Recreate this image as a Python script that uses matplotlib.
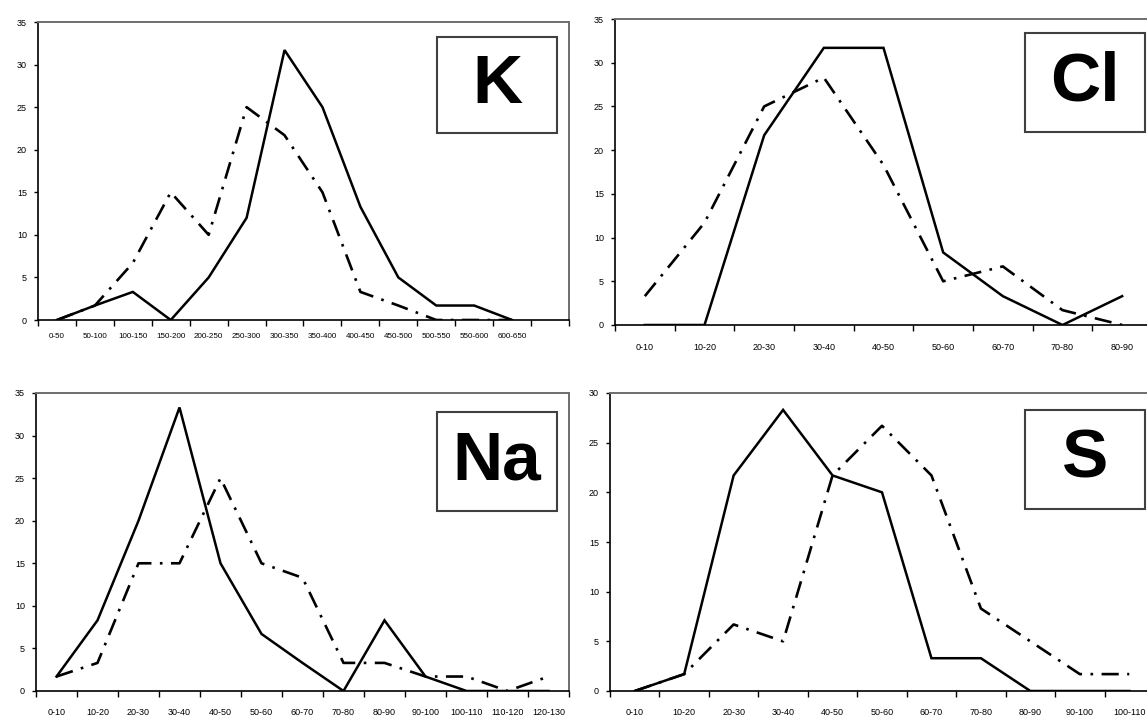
import matplotlib
matplotlib.use('Agg')
import matplotlib.pyplot as plt
from matplotlib.patches import Rectangle

plt.rcParams['font.family'] = ['Liberation Sans', 'DejaVu Sans']

# K panel
K_labels = ['0-50', '50-100', '100-150', '150-200', '200-250', '250-300', '300-350',
            '350-400', '400-450', '450-500', '500-550', '550-600', '600-650']
K_solid = [0, 1.7, 3.3, 0, 5, 12, 31.7, 25, 13.3, 5, 1.7, 1.7, 0]
K_dash = [0, 1.7, 6.7, 15, 10, 25, 21.7, 15, 3.3, 1.7, 0, 0, 0]

# Cl panel
Cl_labels = ['0-10', '10-20', '20-30', '30-40', '40-50', '50-60', '60-70', '70-80', '80-90']
Cl_solid = [0, 0, 21.7, 31.7, 31.7, 8.3, 3.3, 0, 3.3]
Cl_dash = [3.3, 11.7, 25, 28.3, 18.3, 5, 6.7, 1.7, 0]

# Na panel
Na_labels = ['0-10', '10-20', '20-30', '30-40', '40-50', '50-60', '60-70', '70-80',
             '80-90', '90-100', '100-110', '110-120', '120-130']
Na_solid = [1.7, 8.3, 20, 33.3, 15, 6.7, 3.3, 0, 8.3, 1.7, 0, 0, 0]
Na_dash = [1.7, 3.3, 15, 15, 25, 15, 13.3, 3.3, 3.3, 1.7, 1.7, 0, 1.7]

# S panel
S_labels = ['0-10', '10-20', '20-30', '30-40', '40-50', '50-60', '60-70', '70-80',
            '80-90', '90-100', '100-110']
S_solid = [0, 1.7, 21.7, 28.3, 21.7, 20, 3.3, 3.3, 0, 0, 0]
S_dash = [0, 1.7, 6.7, 5, 21.7, 26.7, 21.7, 8.3, 5, 1.7, 1.7]

W, H = 1147, 722
fig = plt.figure(figsize=(W / 100, H / 100), dpi=100)


def px_axes(x0, y0, x1, y1):
    return fig.add_axes([x0 / W, 1 - y1 / H, (x1 - x0) / W, (y1 - y0) / H])


def panel(ax, labels, solid, dash, nslots, ymax, name, box, lpad, lsize):
    xs = [i + 0.5 for i in range(len(solid))]
    ax.plot(xs, solid, color='black', lw=1.8, solid_joinstyle='miter')
    ax.plot(xs, dash, color='black', lw=1.9, linestyle=(0, (6.5, 3.2, 1, 3.2)))
    ax.set_xlim(0, nslots)
    ax.set_ylim(0, ymax)
    ax.set_yticks(range(0, ymax + 1, 5))
    ax.set_xticks([i + 0.5 for i in range(len(labels))])
    ax.set_xticklabels(labels, fontsize=lsize)
    ax.set_xticks(range(nslots + 1), minor=True)
    ax.tick_params(axis='x', which='major', length=0, pad=lpad)
    ax.tick_params(axis='x', which='minor', length=4, width=1, direction='out')
    ax.tick_params(axis='y', length=3, width=1, direction='out', labelsize=6.5, pad=5)
    for s in ['left', 'bottom']:
        ax.spines[s].set_color('black')
        ax.spines[s].set_linewidth(1.2)
    for s in ['top', 'right']:
        ax.spines[s].set_color('#6e6e6e')
        ax.spines[s].set_linewidth(1.4)
    bx0, by0, bx1, by1 = box
    fig.patches.append(Rectangle((bx0 / W, 1 - by1 / H), (bx1 - bx0) / W, (by1 - by0) / H,
                                 transform=fig.transFigure, fill=True, facecolor='white',
                                 edgecolor='#404040', lw=1.5, zorder=5))
    fig.text((bx0 + bx1) / 2 / W, 1 - (by0 + by1) / 2 / H, name, ha='center', va='center',
             fontsize=50, fontweight='bold', zorder=6)


ax1 = px_axes(38, 22, 569, 320)
panel(ax1, K_labels, K_solid, K_dash, 14, 35, 'K', (437, 37, 557, 133), 9, 5.8)

ax2 = px_axes(615, 19, 1152, 325)
panel(ax2, Cl_labels, Cl_solid, Cl_dash, 9, 35, 'Cl', (1025, 33, 1145, 132), 13, 6.5)

ax3 = px_axes(36, 393, 569, 691)
panel(ax3, Na_labels, Na_solid, Na_dash, 13, 35, 'Na', (437, 412, 557, 511), 12, 6.5)

ax4 = px_axes(610, 393, 1154, 691)
panel(ax4, S_labels, S_solid, S_dash, 11, 30, 'S', (1025, 410, 1145, 509), 12, 6.5)

fig.savefig('out.png', dpi=100)
